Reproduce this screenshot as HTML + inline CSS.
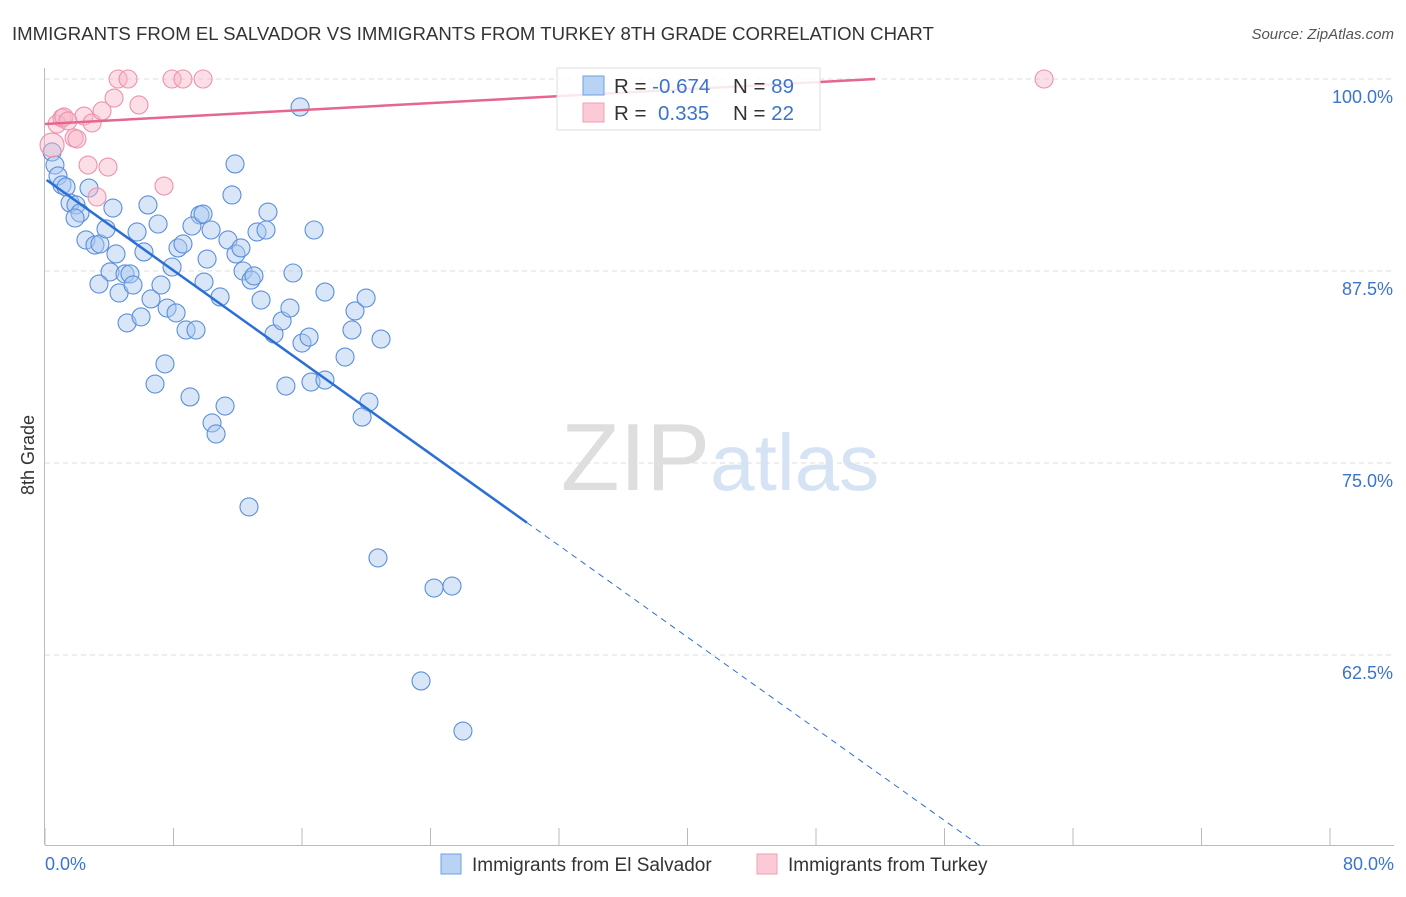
<!DOCTYPE html>
<html><head><meta charset="utf-8"><style>
body{margin:0;background:#fff;font-family:"Liberation Sans",sans-serif;}
svg text{font-family:"Liberation Sans",sans-serif;}
</style></head><body>
<svg id="chart" width="1406" height="892" xmlns="http://www.w3.org/2000/svg">
<text x="12" y="40" font-size="18.6" fill="#333">IMMIGRANTS FROM EL SALVADOR VS IMMIGRANTS FROM TURKEY 8TH GRADE CORRELATION CHART</text>
<text x="1394" y="39" font-size="15" fill="#555" font-style="italic" text-anchor="end">Source: ZipAtlas.com</text>
<text x="720" y="490" font-size="96" fill="#ddd" text-anchor="middle" font-family="Liberation Serif"><tspan fill="#dedede">ZIP</tspan><tspan fill="#d5e3f5" font-family="Liberation Sans" font-size="80">atlas</tspan></text>
<g id="grid"></g>
<g id="axes"></g>
<g id="points"></g>
<g id="trends"></g>
<text transform="translate(34,455) rotate(-90)" font-size="18" fill="#333" text-anchor="middle">8th Grade</text>
<g>
<rect x="557" y="68" width="263" height="62" fill="#fff" fill-opacity="0.85" stroke="#ddd"/>
<rect x="583" y="76" width="21" height="19" fill="#b9d3f5" stroke="#6f9fe0"/>
<rect x="583" y="103" width="21" height="19" fill="#fcc9d7" stroke="#f0a0b8"/>
<text x="614" y="93" font-size="20.5" fill="#333">R = <tspan fill="#3a74d0">-0.674</tspan><tspan x="733">N = </tspan><tspan fill="#3a74d0">89</tspan></text>
<text x="614" y="120" font-size="20.5" fill="#333">R = <tspan x="658" fill="#3a74d0">0.335</tspan><tspan x="733">N = </tspan><tspan fill="#3a74d0">22</tspan></text>
</g>
<g>
<rect x="441" y="854" width="20" height="20" fill="#b9d3f5" stroke="#6f9fe0"/>
<text x="472" y="871" font-size="19" fill="#333">Immigrants from El Salvador</text>
<rect x="757" y="854" width="20" height="20" fill="#fcc9d7" stroke="#f0a0b8"/>
<text x="788" y="871" font-size="19" fill="#333">Immigrants from Turkey</text>
</g>
</svg>
<script>
const yTicks=[100,87.5,75,62.5];
const yTickLabels=["100.0%","87.5%","75.0%","62.5%"];
const xTicks=[0,8,16,24,32,40,48,56,64,72,80];
const xTickLabels=["0.0%","80.0%"];
const blueX=[0.44,0.62,0.81,1.06,1.31,1.56,1.93,2.18,1.87,2.74,2.55,3.11,3.42,3.80,4.23,4.42,4.05,3.36,4.61,4.98,5.29,5.48,5.11,5.98,6.60,5.73,6.16,6.41,7.04,7.22,7.60,7.91,8.16,8.28,8.59,7.47,6.85,8.78,9.40,9.65,9.15,9.84,10.09,10.34,10.90,9.90,11.39,11.64,11.89,12.20,12.33,12.83,13.01,11.83,13.20,13.45,13.76,13.88,14.26,14.76,15.25,15.44,15.88,16.00,16.44,16.75,17.43,15.00,16.56,17.43,18.68,19.11,19.30,19.99,20.17,19.74,20.92,9.03,10.40,10.65,11.21,12.70,20.73,24.22,25.34,23.41,26.02];
const blueY=[95.25,94.40,93.69,93.10,92.97,91.93,91.80,91.28,90.95,92.90,89.52,89.19,89.26,90.24,91.60,88.61,87.44,86.65,86.07,87.31,87.31,86.59,84.12,84.51,85.68,90.04,88.74,91.80,90.56,86.59,85.09,87.76,84.77,89.00,89.26,81.45,80.14,83.66,83.66,91.15,90.43,91.21,88.28,90.17,85.81,86.78,89.52,92.45,88.61,89.00,87.50,86.91,87.18,94.47,90.04,85.61,90.17,91.34,83.40,84.25,85.09,87.37,98.18,82.81,83.20,90.17,86.13,80.01,80.27,80.40,81.90,83.66,84.90,85.74,78.97,77.99,83.07,79.30,77.61,76.89,78.71,72.14,68.82,66.86,66.99,60.81,57.55];
const pinkX=[0.75,1.06,1.18,1.43,1.81,1.99,2.43,2.93,2.68,3.55,3.92,4.30,4.55,5.17,5.85,7.41,7.91,8.59,9.84,3.24,62.20,0.44];
const pinkY=[97.07,97.46,97.53,97.27,96.16,96.09,97.59,97.14,94.40,97.92,94.27,98.76,100,100,98.31,93.03,100,100,100,92.32,100,95.70];
const blueTrend=[93.5,-0.746];
const pinkTrend=[97.07,0.0567];
const NS='http://www.w3.org/2000/svg';
const X=v=>45+v*(1285/80);
const Y=v=>79+(100-v)*(192/12.5);
function mk(tag,attrs,parent){const e=document.createElementNS(NS,tag);for(const k in attrs)e.setAttribute(k,attrs[k]);document.getElementById(parent).appendChild(e);return e;}
yTicks.forEach((t,i)=>{
 const l=mk('line',{x1:45,x2:1394,y1:Y(t),y2:Y(t),stroke:'#ddd','stroke-dasharray':'5,4'},'grid');
 
 
 const tx=mk('text',{x:1393,y:Y(t)+24,'font-size':18,fill:'#3a74d0','text-anchor':'end'},'axes');
 tx.textContent=yTickLabels[i];
 
 
});
const ax=mk('line',{x1:44.5,x2:44.5,y1:68,y2:845,stroke:'#bbb'},'axes');


const bx=mk('line',{x1:45,x2:1394,y1:845.5,y2:845.5,stroke:'#bbb'},'axes');


xTicks.forEach(t=>{
 const l=mk('line',{x1:X(t),x2:X(t),y1:828,y2:845,stroke:'#bbb'},'axes');
 
 
});
const xl0=mk('text',{x:45,y:870,'font-size':18,fill:'#3a74d0'},'axes');xl0.textContent=xTickLabels[0];


const xl1=mk('text',{x:1394,y:870,'font-size':18,fill:'#3a74d0','text-anchor':'end'},'axes');xl1.textContent=xTickLabels[1];


blueX.forEach((v,i)=>{
 const c=mk('circle',{cx:X(v),cy:Y(blueY[i]),r:9,fill:'#a9c8f0','fill-opacity':0.45,stroke:'#5b8fdc','stroke-width':1.1},'points');
 
 
});
pinkX.forEach((v,i)=>{
 const c=mk('circle',{cx:X(v),cy:Y(pinkY[i]),r:i===pinkX.length-1?12:9,fill:'#f7b6c8','fill-opacity':0.45,stroke:'#ee92ad','stroke-width':1.1},'points');
 
 
});
const bEnd=(50-blueTrend[0])/blueTrend[1];
const b1=mk('line',{x1:X(0.1),y1:Y(blueTrend[0]+blueTrend[1]*0.1),x2:X(30),y2:Y(blueTrend[0]+blueTrend[1]*30),stroke:'#2b6fd6','stroke-width':2.5},'trends');


const b2=mk('line',{x1:X(30),y1:Y(blueTrend[0]+blueTrend[1]*30),x2:X(bEnd),y2:Y(50),stroke:'#2b6fd6','stroke-width':1,'stroke-dasharray':'6,5'},'trends');


const pEnd=(100-pinkTrend[0])/pinkTrend[1];
const p1=mk('line',{x1:X(0),y1:Y(pinkTrend[0]),x2:X(pEnd),y2:Y(100),stroke:'#e5668e','stroke-width':2.5},'trends');


</script>
</body></html>
